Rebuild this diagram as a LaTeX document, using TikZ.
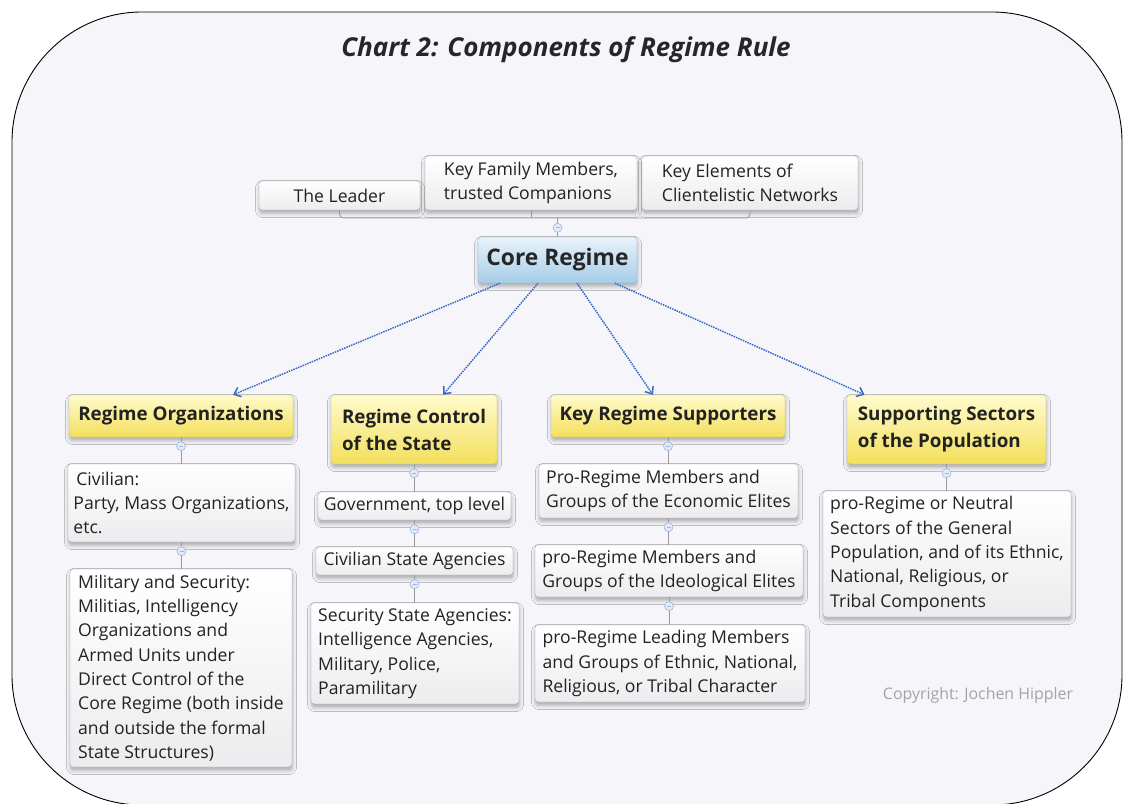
\documentclass[tikz,border=0pt]{standalone}
\usepackage{fontspec}
\setmainfont{Open Sans}
\usetikzlibrary{arrows.meta,shadows.blur}
\definecolor{bg}{HTML}{F6F6FA}
\definecolor{boxborder}{HTML}{A4A4A8}
\definecolor{boxbot}{HTML}{ECECEE}
\definecolor{yeltop}{HTML}{FFFBCC}
\definecolor{yelbot}{HTML}{F3DF5C}
\definecolor{yelborder}{HTML}{C9BC78}
\definecolor{coretop}{HTML}{E8F3FB}
\definecolor{corebot}{HTML}{A6CDE8}
\definecolor{coreborder}{HTML}{8FA9BF}
\definecolor{txt}{HTML}{222222}
\definecolor{conngray}{HTML}{9A9A9E}
\definecolor{arrowblue}{HTML}{3A68C6}
\definecolor{colfill}{HTML}{E2EAF8}
\definecolor{colborder}{HTML}{9EB6E0}
\definecolor{copygray}{HTML}{A2A2AA}
\newcommand{\bodyfont}{\fontsize{17.6}{24.3}\selectfont}
\newcommand{\headfont}{\fontsize{18.8}{27}\selectfont\bfseries}
\tikzset{
  basebox/.style={rounded corners=3pt, text=txt, inner xsep=5pt, inner ysep=2pt,
    blur shadow={shadow xshift=0.5pt, shadow yshift=-3.5pt, shadow blur radius=4pt, shadow opacity=30}},
  whitebox/.style={basebox, draw=boxborder, top color=white, bottom color=boxbot, font=\bodyfont, align=left},
  yellowbox/.style={basebox, draw=yelborder, top color=yeltop, bottom color=yelbot, font=\headfont, align=left},
  corebox/.style={basebox, draw=coreborder, top color=coretop, bottom color=corebot,
    font=\fontsize{22.8}{26}\selectfont\bfseries, text=black!85},
  conn/.style={draw=conngray, line width=0.8pt},
  toparrow/.style={draw=arrowblue, densely dotted, line width=1.5pt, -{Straight Barb[length=6pt,width=10pt]}},
  collapse/.style={circle, draw=colborder, fill=colfill, inner sep=0pt, minimum size=9pt, line width=0.6pt,
    path picture={\draw[colborder, line width=0.7pt] ([xshift=-2pt]path picture bounding box.center) -- ([xshift=2pt]path picture bounding box.center);}}
}
\begin{document}
\begin{tikzpicture}[x=1pt,y=-1pt]
\useasboundingbox (0,0) rectangle (1129,803);
\fill[white] (0,0) rectangle (1129,803);
\begin{scope}
  \clip (0,0) rectangle (1129,803);
  \draw[fill=bg, line width=0.9pt, rounded corners=130pt] (12,12) rectangle (1122,805);
\end{scope}

\node[font=\fontsize{26}{30}\selectfont\bfseries\itshape, text=black!85] (title) at (566,50) {Chart 2: Components of Regime Rule};

% top level
\node[whitebox, align=center, minimum width=161pt, minimum height=29pt] (leader) at (339.5,195.5) {The Leader};
\node[whitebox, minimum width=212pt, minimum height=54pt] (family) at (531,183) {Key Family Members,\\trusted Companions};
\node[whitebox, minimum width=216pt, minimum height=54pt] (elements) at (750,183) {Key Elements of\\Clientelistic Networks};
\node[corebox, minimum width=159pt, minimum height=46pt] (core) at (557.5,260) {Core Regime};

% second level
\node[yellowbox, minimum width=224pt, minimum height=42pt] (org) at (181,416) {Regime Organizations};
\node[yellowbox, minimum width=166pt, minimum height=69pt] (ctrl) at (414,429.5) {Regime Control\\of the State};
\node[yellowbox, minimum width=234pt, minimum height=42pt] (sup) at (668,416) {Key Regime Supporters};
\node[yellowbox, minimum width=199pt, minimum height=69pt] (sect) at (946.5,429.5) {Supporting Sectors\\of the Population};

% column 1
\node[whitebox, minimum width=227pt, minimum height=78pt] (civ) at (181.5,503) {\,Civilian:\\Party, Mass Organizations,\\etc.};
\node[whitebox, minimum width=222pt, minimum height=198pt] (mil) at (181,668) {Military and Security:\\Militias, Intelligency\\Organizations and\\Armed Units under\\Direct Control of the\\Core Regime (both inside\\and outside the formal\\State Structures)};
% column 2
\node[whitebox, minimum width=193pt, minimum height=28pt] (gov) at (414.5,506) {Government, top level};
\node[whitebox, minimum width=197pt, minimum height=28pt] (csa) at (414.5,561) {Civilian State Agencies};
\node[whitebox, minimum width=208pt, minimum height=101pt] (ssa) at (415,653.5) {Security State Agencies:\\Intelligence Agencies,\\Military, Police,\\Paramilitary};
% column 3
\node[whitebox, minimum width=259pt, minimum height=54pt] (eco) at (668.5,491) {Pro-Regime Members and\\Groups of the Economic Elites};
\node[whitebox, minimum width=268pt, minimum height=52pt] (ideo) at (669,571) {pro-Regime Members and\\Groups of the Ideological Elites};
\node[whitebox, minimum width=270pt, minimum height=77pt] (lead) at (670,663.5) {pro-Regime Leading Members\\and Groups of Ethnic, National,\\Religious, or Tribal Character};
% column 4
\node[whitebox, minimum width=248pt, minimum height=126pt] (pop) at (947,554) {pro-Regime or Neutral\\Sectors of the General\\Population, and of its Ethnic,\\National, Religious, or\\Tribal Components};

\node[font=\fontsize{15.9}{19}\selectfont, text=copygray] (copy) at (978,695) {Copyright: Jochen Hippler};

% top bracket
\draw[conn, rounded corners=4pt] (leader.south) -- (leader.south |- 0,218) -- (elements.south |- 0,218) -- (elements.south);
\draw[conn] (family.south) -- (family.south |- 0,218);
\draw[conn] (core.north) -- (core.north |- 0,218);
\node[collapse] at ([yshift=9pt]core.north) {};

% arrows
\draw[toparrow] ([xshift=-57.5pt]core.south) -- ([xshift=52pt]org.north);
\draw[toparrow] ([xshift=-19.5pt]core.south) -- ([xshift=29pt]ctrl.north);
\draw[toparrow] ([xshift=19.5pt]core.south) -- ([xshift=-15pt]sup.north);
\draw[toparrow] ([xshift=57.5pt]core.south) -- ([xshift=-82pt]sect.north);

% vertical connectors with collapse markers
\foreach \a/\b in {org/civ, civ/mil, ctrl/gov, gov/csa, csa/ssa, sup/eco, eco/ideo, ideo/lead, sect/pop}{
  \draw[conn] (\a.south) -- (\a.south |- \b.north);
  \node[collapse] at ([yshift=-9pt]\a.south) {};
}
\end{tikzpicture}
\end{document}
